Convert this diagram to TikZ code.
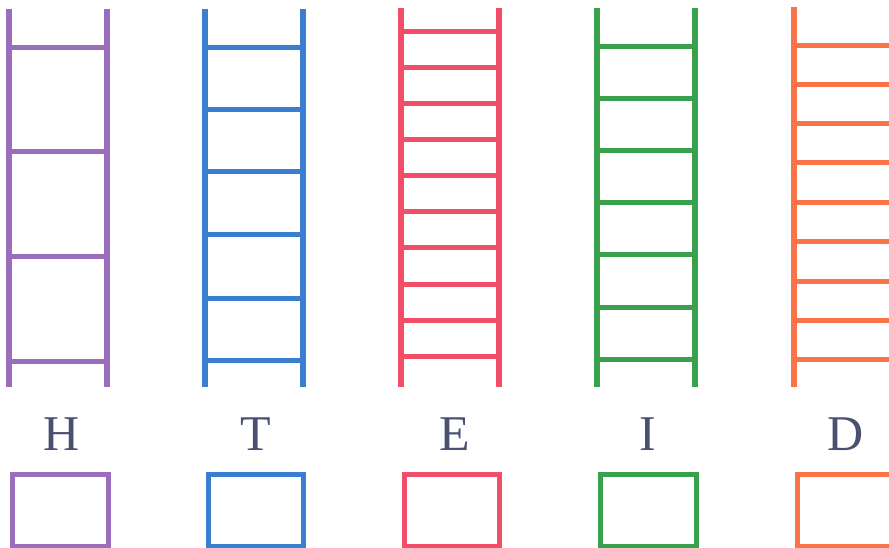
\documentclass[tikz,border=0pt]{standalone}
\usepackage{fontspec}
\setmainfont{Liberation Serif}
\definecolor{cpur}{HTML}{9A6DBD}
\definecolor{cblu}{HTML}{3A7ED2}
\definecolor{cred}{HTML}{F24E68}
\definecolor{cgrn}{HTML}{39A04E}
\definecolor{corg}{HTML}{F97248}
\definecolor{cltr}{HTML}{4A5072}
\tikzset{
  rail/.style={line width=5.6pt},
  rung/.style={line width=5pt},
  answerbox/.style={line width=5pt},
  letter/.style={text=cltr, font=\fontsize{50}{50}\selectfont, inner sep=0pt, anchor=base}
}
\begin{document}
\begin{tikzpicture}[x=1pt,y=-1pt]
\useasboundingbox (0,0) rectangle (889,548);
\fill[white] (0,0) rectangle (889,548);
\clip (0,0) rectangle (889,548);
% purple ladder H
\draw[rail,cpur] (9,9) -- (9,387) (107,9) -- (107,387);
\foreach \y in {48,152,257,361} \draw[rung,cpur] (9,\y) -- (107,\y);
% blue ladder T
\draw[rail,cblu] (205,9) -- (205,387) (303,9) -- (303,387);
\foreach \y in {48,110,172,235,298,360} \draw[rung,cblu] (205,\y) -- (303,\y);
% red ladder E
\draw[rail,cred] (401,8) -- (401,387) (499,8) -- (499,387);
\foreach \y in {32,68,104,140,176,212,248,284,320,356} \draw[rung,cred] (401,\y) -- (499,\y);
% green ladder I
\draw[rail,cgrn] (597,8) -- (597,387) (695,8) -- (695,387);
\foreach \y in {47,99,151,203,255,307,359} \draw[rung,cgrn] (597,\y) -- (695,\y);
% orange ladder D
\draw[rail,corg] (794,7) -- (794,387) (893,7) -- (893,387);
\foreach \y in {46,85,124,163,203,242,281,320,359} \draw[rung,corg] (794,\y) -- (893,\y);
% letters
\node[letter] (lH) at (62,450) {H};
\node[letter] (lT) at (256,450) {T};
\node[letter] (lE) at (455,450) {E};
\node[letter] (lI) at (648,450) {I};
\node[letter] (lD) at (846,450) {D};
% answer boxes
\draw[answerbox,cpur] (12,474) rectangle (108,546);
\draw[answerbox,cblu] (208,474) rectangle (303,546);
\draw[answerbox,cred] (404,474) rectangle (499,546);
\draw[answerbox,cgrn] (600,474) rectangle (696,546);
\draw[answerbox,corg] (797,474) rectangle (900,546);
\end{tikzpicture}
\end{document}
